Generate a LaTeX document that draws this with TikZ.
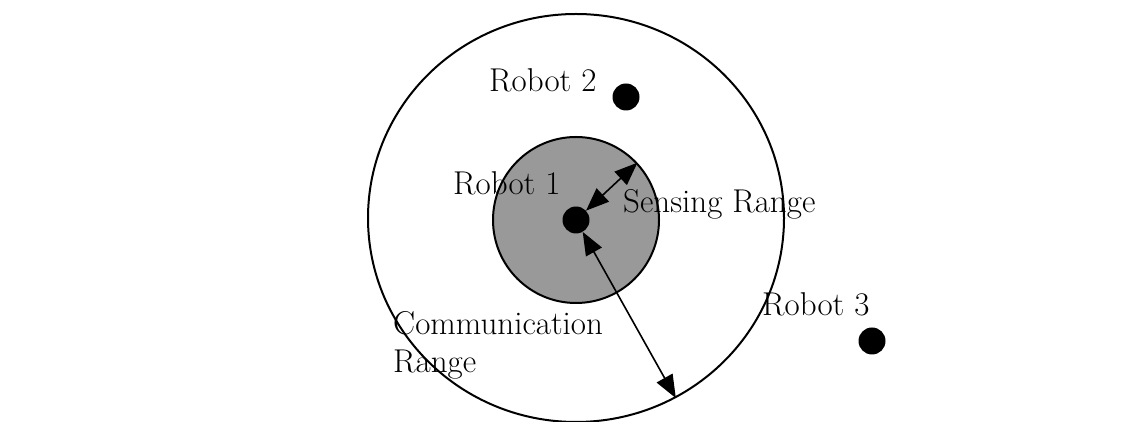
\documentclass[tikz,border=0pt]{standalone}
\usepackage{tikz}
\usetikzlibrary{arrows.meta,shapes.geometric}
\definecolor{sensegray}{HTML}{999999}

\begin{document}
\begin{tikzpicture}[x=1pt,y=1pt,
    robot/.style={circle,fill=black,inner sep=0pt,minimum size=27pt},
    robotname/.style={inner sep=0pt,anchor=base west,font=\fontsize{33}{38}\selectfont},
    rangearrow/.style={line width=1.6pt,{Triangle[length=23pt,width=18pt]}-{Triangle[length=23pt,width=18pt]}}]
  \useasboundingbox (0,0) rectangle (1142,422);
  \node[draw,ellipse,line width=2pt,inner sep=0pt,minimum width=416pt,minimum height=408pt] (comm) at (576,204) {};
  \node[draw,circle,fill=sensegray,line width=2pt,inner sep=0pt,minimum size=166pt] (sense) at (576,202) {};
  \node[robot] (r1) at (576,202) {};
  \node[robot] (r2) at (626,325) {};
  \node[robot] (r3) at (872,81) {};
  \node[robotname] (t2) at (489,330) {Robot 2};
  \node[robotname] (t1) at (453,227) {Robot 1};
  \node[robotname] (ts) at (623,209) {Sensing Range};
  \node[robotname] (t3) at (762,106) {Robot 3};
  \node[robotname,align=left] (tc) at (393,49) {Communication\\Range};
  \draw[rangearrow] (r1) -- (sense.43);
  \draw[rangearrow] (r1) -- (comm.299);
\end{tikzpicture}
\end{document}
